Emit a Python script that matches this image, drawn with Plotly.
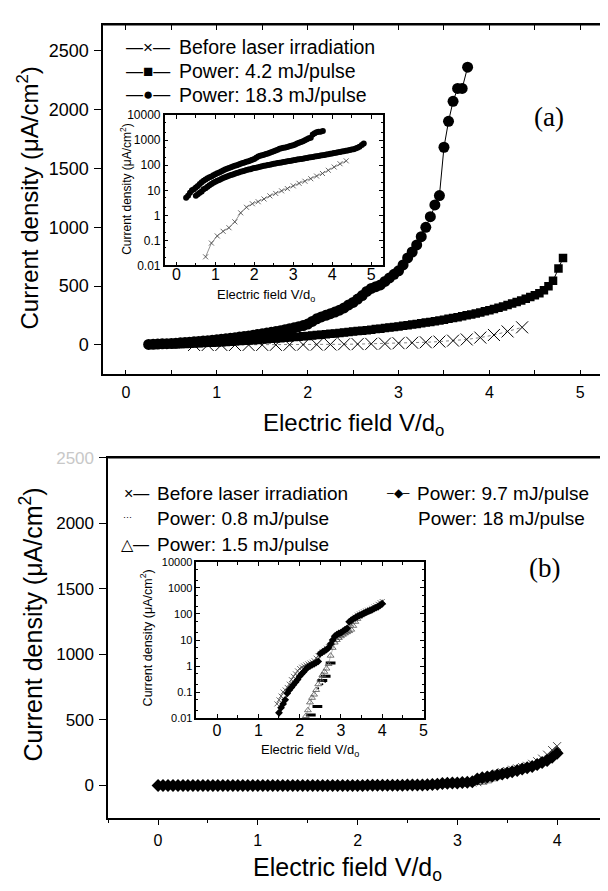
import plotly.graph_objects as go

# The page body has an 8 px default margin; the figure is sized so it fills the 608x891 window.
OFF = 8
W, H = 608 - OFF, 891 - OFF

# ---------------- Panel (a) data ----------------
a_before_x = [0.75, 0.90, 1.05, 1.20, 1.35, 1.50, 1.65, 1.80, 1.95, 2.10, 2.25, 2.40, 2.55,
              2.70, 2.85, 3.00, 3.15, 3.30, 3.45, 3.60, 3.75, 3.90, 4.05, 4.20, 4.36]
a_before_y = [0.022, 0.078, 0.15, 0.23, 0.32, 0.55, 1.26, 2.1, 2.9, 3.5, 4.5, 6, 7.5,
              9.5, 11.7, 15, 19, 23, 29, 37, 47, 63, 85, 115, 150]

a_p42_x = [0.50, 0.55, 0.60, 0.65, 0.70, 0.75, 0.80, 0.85, 0.90, 0.95, 1.00, 1.05, 1.10, 1.15,
           1.20, 1.25, 1.30, 1.35, 1.40, 1.45, 1.50, 1.55, 1.60, 1.65, 1.70, 1.75, 1.80, 1.85,
           1.90, 1.95, 2.00, 2.05, 2.10, 2.15, 2.20, 2.25, 2.30, 2.35, 2.40, 2.45, 2.50, 2.55,
           2.60, 2.65, 2.70, 2.75, 2.80, 2.85, 2.90, 2.95, 3.00, 3.05, 3.10, 3.15, 3.20, 3.25,
           3.30, 3.35, 3.40, 3.45, 3.50, 3.55, 3.60, 3.65, 3.70, 3.75, 3.80, 3.85, 3.90, 3.95,
           4.00, 4.05, 4.10, 4.15, 4.20, 4.25, 4.30, 4.35, 4.40, 4.45, 4.50, 4.55, 4.60, 4.65,
           4.70, 4.76, 4.81]
a_p42_y = [6, 7, 8, 9, 11, 12, 14, 16, 18, 20, 22, 24, 26, 28,
           31, 33, 36, 38, 41, 43, 46, 49, 52, 55, 58, 61, 64, 67,
           70, 74, 77, 80, 84, 87, 91, 95, 98, 102, 106, 110, 114, 118,
           122, 126, 130, 135, 139, 144, 148, 153, 158, 163, 168, 173, 178, 184,
           190, 196, 202, 208, 215, 222, 229, 236, 244, 252, 260, 268, 277, 286,
           296, 306, 317, 328, 340, 352, 365, 378, 392, 407, 423, 440, 465, 500,
           545, 650, 740]

a_p183_x = [0.25, 0.30, 0.35, 0.40, 0.45, 0.50, 0.55, 0.60, 0.65, 0.70, 0.75, 0.80, 0.85, 0.90,
            0.95, 1.00, 1.05, 1.10, 1.15, 1.20, 1.25, 1.30, 1.35, 1.40, 1.45, 1.50, 1.55, 1.60,
            1.65, 1.70, 1.75, 1.80, 1.85, 1.90, 1.95, 2.00, 2.05, 2.10, 2.15, 2.20, 2.25, 2.30,
            2.35, 2.40, 2.45, 2.50, 2.55, 2.60, 2.65, 2.70, 2.75, 2.80, 2.85, 2.90, 2.95, 3.00,
            3.05, 3.10, 3.15, 3.20, 3.25, 3.30, 3.35, 3.40, 3.45, 3.50, 3.55, 3.60, 3.65, 3.70,
            3.76]
a_p183_y = [5, 6, 8, 10, 11, 13, 15, 18, 21, 24, 27, 30, 33, 36,
            40, 44, 48, 52, 57, 62, 67, 72, 77, 83, 89, 95, 101, 108,
            115, 122, 130, 138, 146, 155, 165, 178, 200, 222, 238, 252, 266, 280,
            296, 315, 340, 362, 390, 420, 455, 480, 495, 510, 540, 570, 600, 630,
            680, 740, 790, 850, 920, 1000, 1090, 1190, 1270, 1680, 1900, 2070, 2180, 2180,
            2360]

# ---------------- Panel (b) data ----------------
b_p97_x = [0.00, 0.05, 0.10, 0.15, 0.20, 0.25, 0.30, 0.35, 0.40, 0.45, 0.50, 0.55, 0.60, 0.65,
           0.70, 0.75, 0.80, 0.85, 0.90, 0.95, 1.00, 1.05, 1.10, 1.15, 1.20, 1.25, 1.30, 1.35,
           1.40, 1.45, 1.50, 1.55, 1.60, 1.65, 1.70, 1.75, 1.80, 1.85, 1.90, 1.95, 2.00, 2.05,
           2.10, 2.15, 2.20, 2.25, 2.30, 2.35, 2.40, 2.45, 2.50, 2.55, 2.60, 2.65, 2.70, 2.75,
           2.80, 2.85, 2.90, 2.95, 3.00, 3.05, 3.10, 3.15, 3.20, 3.25, 3.30, 3.35, 3.40, 3.45,
           3.50, 3.55, 3.60, 3.65, 3.70, 3.75, 3.80, 3.85, 3.90, 3.95, 4.00]
b_p97_y = [0.001, 0.001, 0.001, 0.001, 0.001, 0.001, 0.001, 0.001, 0.001, 0.001, 0.001, 0.001, 0.001, 0.001,
           0.001, 0.001, 0.001, 0.001, 0.001, 0.001, 0.001, 0.001, 0.001, 0.001, 0.001, 0.001, 0.001, 0.001,
           0.001, 0.001, 0.016, 0.025, 0.035, 0.05, 0.09, 0.12, 0.15, 0.19, 0.24, 0.3, 0.4, 0.5,
           0.6, 0.75, 0.9, 1.0, 1.1, 1.2, 1.35, 1.5, 3.0, 3.4, 3.8, 4.3, 5.0, 7,
           10, 14, 16, 18, 19, 22, 25, 28, 50, 58, 65, 72, 80, 88,
           95, 105, 115, 125, 135, 145, 160, 175, 190, 215, 245]

b_before_x = [1.45, 1.50, 1.55, 1.60, 1.65, 1.70, 1.75, 1.80, 1.85, 1.90, 1.95, 2.00, 2.05, 2.10,
              2.15, 2.20, 2.25, 2.30, 2.35, 2.40, 2.45, 2.50, 2.55, 2.60, 2.65, 2.70, 2.75, 2.80,
              2.85, 2.90, 2.95, 3.00, 3.05, 3.10, 3.15, 3.20, 3.25, 3.30, 3.35, 3.40, 3.45, 3.50,
              3.55, 3.60, 3.65, 3.70, 3.75, 3.80, 3.85, 3.90, 3.95, 4.00]
b_before_y = [0.035, 0.05, 0.07, 0.1, 0.12, 0.15, 0.2, 0.3, 0.4, 0.5, 0.65, 0.8, 0.9, 1.0,
              1.1, 1.2, 1.3, 1.4, 1.6, 2.0, 2.5, 3.0, 3.5, 4.0, 4.8, 5.5, 6.5, 8,
              10, 12, 14, 16, 18, 20, 22, 25, 40, 60, 75, 90, 100, 110,
              120, 130, 140, 150, 165, 185, 205, 235, 270, 300]

b_p15_x = [2.15, 2.20, 2.25, 2.30, 2.35, 2.40, 2.45, 2.50, 2.55, 2.60, 2.65, 2.70, 2.75, 2.80,
           2.85, 2.90, 2.95, 3.00, 3.05, 3.10, 3.15, 3.20, 3.25, 3.30, 3.35, 3.40, 3.45, 3.50,
           3.55, 3.60, 3.65, 3.70, 3.75, 3.80, 3.85, 3.90, 3.95, 4.00]
b_p15_y = [0.012, 0.02, 0.04, 0.06, 0.08, 0.12, 0.2, 0.3, 0.45, 0.6, 0.8, 1.2, 2.5, 5,
           8, 10, 12, 14, 16, 18, 20, 22, 25, 35, 50, 65, 80, 90,
           100, 110, 120, 135, 150, 165, 185, 210, 240, 270]

b_p08_x = [2.45, 2.55, 2.62]
b_p08_y = [0.14, 0.2, 0.25]

b_p18_x = [2.27, 2.43, 2.55, 2.63, 2.75]
b_p18_y = [0.013, 0.028, 0.28, 0.40, 1.3]

# ---------------- tick labels ----------------
a_y_ticks = [0, 500, 1000, 1500, 2000, 2500]
a_y_text = ["0", "500", "1000", "1500", "2000", "2500"]
b_y_ticks = [0, 500, 1000, 1500, 2000, 2500]
b_y_text = ["0", "500", "1000", "1500", "2000", "<span style='color:#c8c8c8'>2500</span>"]
a_x_ticks = [0, 1, 2, 3, 4, 5]
b_x_ticks = [0, 1, 2, 3, 4]
log_ticks = [0.01, 0.1, 1, 10, 100, 1000, 10000]
log_text = ["0.01", "0.1", "1", "10", "100", "1000", "10000"]
in_x_ticks = [0, 1, 2, 3, 4, 5]

FONT = "Liberation Sans, Arial, sans-serif"
SERIF = "Liberation Serif, Times New Roman, serif"


def fx(px):
    return min(1.0, max(0.0, (px - OFF) / W))


def fy(py):
    return min(1.0, max(0.0, 1 - (py - OFF) / H))


fig = go.Figure()

# ----- panel (a) main -----
fig.add_trace(go.Scatter(x=a_before_x, y=a_before_y, mode="lines+markers", xaxis="x", yaxis="y",
                         line=dict(color="#666", width=0.8, dash="dot"),
                         marker=dict(symbol="x-thin-open", size=12, color="black",
                                     line=dict(color="black", width=1))))
fig.add_trace(go.Scatter(x=a_p42_x, y=a_p42_y, mode="lines+markers", xaxis="x", yaxis="y",
                         line=dict(color="black", width=1),
                         marker=dict(symbol="square", size=8.5, color="black")))
fig.add_trace(go.Scatter(x=a_p183_x, y=a_p183_y, mode="lines+markers", xaxis="x", yaxis="y",
                         line=dict(color="black", width=1),
                         marker=dict(symbol="circle", size=11, color="black")))
# ----- panel (a) inset -----
fig.add_trace(go.Scatter(x=a_before_x, y=a_before_y, mode="lines+markers", xaxis="x2", yaxis="y2",
                         line=dict(color="#777", width=0.8),
                         marker=dict(symbol="x-thin-open", size=5, color="#444",
                                     line=dict(color="#444", width=0.8))))
fig.add_trace(go.Scatter(x=a_p42_x, y=a_p42_y, mode="lines+markers", xaxis="x2", yaxis="y2",
                         line=dict(color="black", width=1),
                         marker=dict(symbol="circle", size=6, color="black")))
fig.add_trace(go.Scatter(x=a_p183_x, y=a_p183_y, mode="lines+markers", xaxis="x2", yaxis="y2",
                         line=dict(color="black", width=1),
                         marker=dict(symbol="circle", size=6, color="black")))

# ----- panel (b) main -----
fig.add_trace(go.Scatter(x=b_p08_x, y=b_p08_y, mode="markers", xaxis="x3", yaxis="y3",
                         marker=dict(symbol="circle", size=2, color="black")))
fig.add_trace(go.Scatter(x=b_p18_x, y=b_p18_y, mode="markers", xaxis="x3", yaxis="y3",
                         marker=dict(symbol="line-ew", size=8, color="black",
                                     line=dict(color="black", width=3))))
fig.add_trace(go.Scatter(x=b_p15_x, y=b_p15_y, mode="lines+markers", xaxis="x3", yaxis="y3",
                         line=dict(color="#888", width=0.8),
                         marker=dict(symbol="triangle-up-open", size=8, color="#555",
                                     line=dict(color="#555", width=0.8))))
fig.add_trace(go.Scatter(x=b_before_x, y=b_before_y, mode="lines+markers", xaxis="x3", yaxis="y3",
                         line=dict(color="#777", width=0.8),
                         marker=dict(symbol="x-thin-open", size=8, color="#333",
                                     line=dict(color="#333", width=0.9))))
fig.add_trace(go.Scatter(x=b_p97_x, y=b_p97_y, mode="lines+markers", xaxis="x3", yaxis="y3",
                         line=dict(color="black", width=1),
                         marker=dict(symbol="diamond", size=10, color="black")))
# ----- panel (b) inset -----
fig.add_trace(go.Scatter(x=b_p08_x, y=b_p08_y, mode="markers", xaxis="x4", yaxis="y4",
                         marker=dict(symbol="circle", size=2, color="black")))
fig.add_trace(go.Scatter(x=b_p18_x, y=b_p18_y, mode="markers", xaxis="x4", yaxis="y4",
                         marker=dict(symbol="line-ew", size=7, color="black",
                                     line=dict(color="black", width=3))))
fig.add_trace(go.Scatter(x=b_p15_x, y=b_p15_y, mode="lines+markers", xaxis="x4", yaxis="y4",
                         line=dict(color="#999", width=0.7),
                         marker=dict(symbol="triangle-up-open", size=6, color="#555",
                                     line=dict(color="#555", width=0.8))))
fig.add_trace(go.Scatter(x=b_before_x, y=b_before_y, mode="lines+markers", xaxis="x4", yaxis="y4",
                         line=dict(color="#888", width=0.7),
                         marker=dict(symbol="x-thin-open", size=5, color="#444",
                                     line=dict(color="#444", width=0.8))))
fig.add_trace(go.Scatter(x=b_p97_x, y=b_p97_y, mode="lines+markers", xaxis="x4", yaxis="y4",
                         line=dict(color="black", width=0.8),
                         marker=dict(symbol="diamond", size=6, color="black")))

axcommon = dict(showgrid=False, zeroline=False, showline=True, linecolor="black",
                linewidth=1.5, tickcolor="black", tickwidth=1.2)

fig.update_layout(
    width=W, height=H, showlegend=False,
    margin=dict(l=0, r=0, t=0, b=0),
    paper_bgcolor="white", plot_bgcolor="white",
    font=dict(family=FONT, color="black"),
    xaxis=dict(**axcommon, domain=[fx(104), 1.0], range=[-0.25, 5.25], anchor="y",
               tickvals=a_x_ticks, ticks="inside", ticklen=5, mirror="ticks",
               minor=dict(dtick=0.5, ticks="inside", ticklen=5, tickcolor="black"),
               tickfont=dict(size=16), ticklabelstandoff=3),
    yaxis=dict(**axcommon, domain=[fy(372), fy(16)], range=[-250, 2720], anchor="x",
               tickvals=a_y_ticks, ticktext=a_y_text, ticks="outside", ticklen=7,
               tickfont=dict(size=18), ticklabelstandoff=2),
    xaxis2=dict(**axcommon, domain=[fx(166), fx(386)], range=[-0.3, 5.3], anchor="y2",
                tickvals=in_x_ticks, ticks="inside", ticklen=4, mirror="ticks",
                minor=dict(dtick=0.5, ticks="inside", ticklen=3, tickcolor="black"),
                tickfont=dict(size=16), ticklabelstandoff=-6),
    yaxis2=dict(**axcommon, domain=[fy(261), fy(108)], type="log", range=[-2, 4], anchor="x2",
                tickvals=log_ticks, ticktext=log_text, ticks="inside", ticklen=4, mirror="ticks",
                minor=dict(ticks="inside", ticklen=2, tickcolor="black"),
                tickfont=dict(size=12), ticklabelstandoff=0),
    xaxis3=dict(**axcommon, domain=[fx(109), 1.0], range=[-0.5, 4.46], anchor="y3",
                tickvals=b_x_ticks, ticks="outside", ticklen=5, mirror=True,
                minor=dict(dtick=0.5, ticks="outside", ticklen=3, tickcolor="black"),
                tickfont=dict(size=16), ticklabelstandoff=2),
    yaxis3=dict(**axcommon, domain=[fy(824), fy(457)], range=[-250, 2500], anchor="x3",
                tickvals=b_y_ticks, ticktext=b_y_text, ticks="outside", ticklen=7,
                tickfont=dict(size=17), ticklabelstandoff=2),
    xaxis4=dict(**axcommon, domain=[fx(198), fx(427)], range=[-0.5, 5.0], anchor="y4",
                tickvals=in_x_ticks, ticks="inside", ticklen=4, mirror="ticks",
                minor=dict(dtick=0.5, ticks="inside", ticklen=3, tickcolor="black"),
                tickfont=dict(size=16), ticklabelstandoff=-3),
    yaxis4=dict(**axcommon, domain=[fy(722), fy(563)], type="log", range=[-2, 4], anchor="x4",
                tickvals=log_ticks, ticktext=log_text, ticks="inside", ticklen=4, mirror="ticks",
                minor=dict(ticks="inside", ticklen=2, tickcolor="black"),
                tickfont=dict(size=11), ticklabelstandoff=0),
)

# top frame lines of the two main panels (same place as the mirrored axis line)
fig.update_layout(shapes=[
    dict(type="line", xref="paper", yref="paper", x0=fx(104), x1=1.0, y0=fy(16), y1=fy(16),
         line=dict(color="black", width=1.5)),
    dict(type="line", xref="paper", yref="paper", x0=fx(109), x1=1.0, y0=fy(457), y1=fy(457),
         line=dict(color="black", width=1.5)),
])

ann = []


def add_text(text, px, py, size, xanchor="center", yanchor="middle", angle=0, family=FONT, color="black"):
    ann.append(dict(text=text, x=fx(px), y=fy(py), xref="paper", yref="paper",
                    xanchor=xanchor, yanchor=yanchor, textangle=angle, showarrow=False,
                    font=dict(size=size, family=family, color=color)))


# axis titles
add_text("Current density (μA/cm<sup>2</sup>)", 28, 192, 24, angle=-90)
add_text("Electric field V/d<sub>o</sub>", 356, 423, 24)
add_text("Current density (μA/cm<sup>2</sup>)", 31, 627, 25, angle=-90)
add_text("Electric field V/d<sub>o</sub>", 350, 876, 25)
add_text("Electric field V/d<sub>o</sub>", 268, 292, 13)
add_text("Current density (μA/cm<sup>2</sup>)", 127, 183, 12, angle=-90)
add_text("Electric field V/d<sub>o</sub>", 313, 755, 13)
add_text("Current density (μA/cm<sup>2</sup>)", 147, 640, 12.5, angle=-90)

# panel labels
add_text("(a)", 554, 110, 27, family=SERIF)
add_text("(b)", 549, 569, 27, family=SERIF)

# legend (a)
leg_a = ["Before laser irradiation", "Power: 4.2 mJ/pulse", "Power: 18.3 mJ/pulse"]
sym_a = ["—×—", "—■—", "—●—"]
for i, (t, s) in enumerate(zip(leg_a, sym_a)):
    add_text(s, 149, 39 + 24 * i, 17)
    add_text(t, 178, 39 + 24 * i, 19.5, xanchor="left")

# legend (b)
add_text("×—", 152, 493, 16, xanchor="right")
add_text("Before laser irradiation", 156, 493, 19, xanchor="left")
add_text("···", 128, 517, 9)
add_text("Power: 0.8 mJ/pulse", 156, 519, 19, xanchor="left")
add_text("△—", 152, 545, 16, xanchor="right")
add_text("Power: 1.5 mJ/pulse", 156, 545, 19, xanchor="left")
add_text("–◆–", 402, 493, 12)
add_text("Power: 9.7 mJ/pulse", 418, 493, 19, xanchor="left")
add_text("Power: 18 mJ/pulse", 592, 519, 19, xanchor="right")

fig.update_layout(annotations=ann)

fig.write_html("out.html")
